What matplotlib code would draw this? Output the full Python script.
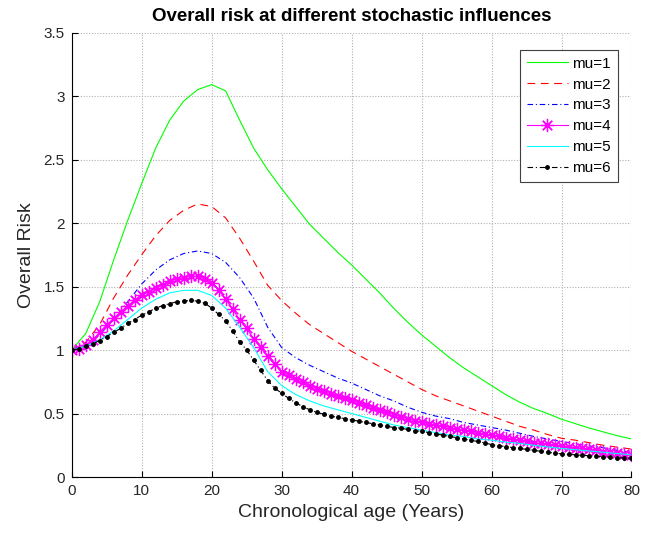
import numpy as np
import matplotlib
matplotlib.use('Agg')
import matplotlib.pyplot as plt

plt.rcParams['font.family'] = ['Liberation Sans', 'DejaVu Sans']

# eta' (anni): linee semplici ogni 2 anni, linee con marker ogni anno
eta2 = np.arange(0, 81, 2)
eta1 = np.arange(0, 81, 1)

mu1 = [1.00, 1.13, 1.38, 1.71, 2.02, 2.31, 2.59, 2.81, 2.96, 3.05, 3.09, 3.04, 2.81, 2.59,
       2.42, 2.27, 2.13, 1.99, 1.88, 1.77, 1.67, 1.56, 1.45, 1.33, 1.22, 1.12, 1.03, 0.94,
       0.86, 0.79, 0.72, 0.65, 0.59, 0.54, 0.50, 0.455, 0.42, 0.385, 0.355, 0.325, 0.30]
mu2 = [1.00, 1.06, 1.20, 1.41, 1.59, 1.75, 1.90, 2.02, 2.10, 2.15, 2.13, 2.04, 1.88, 1.70,
       1.51, 1.39, 1.29, 1.20, 1.13, 1.06, 0.99, 0.93, 0.87, 0.81, 0.75, 0.69, 0.64, 0.60,
       0.56, 0.52, 0.48, 0.44, 0.40, 0.37, 0.335, 0.305, 0.29, 0.27, 0.25, 0.235, 0.22]
mu3 = [1.00, 1.04, 1.12, 1.24, 1.38, 1.52, 1.63, 1.71, 1.76, 1.78, 1.76, 1.69, 1.57, 1.41,
       1.18, 1.02, 0.94, 0.88, 0.83, 0.78, 0.74, 0.69, 0.64, 0.60, 0.55, 0.51, 0.48, 0.46,
       0.43, 0.41, 0.39, 0.37, 0.345, 0.32, 0.30, 0.28, 0.26, 0.245, 0.23, 0.21, 0.195]
mu5 = [1.00, 1.03, 1.08, 1.15, 1.24, 1.33, 1.40, 1.45, 1.47, 1.47, 1.43, 1.33, 1.18, 1.02,
       0.83, 0.72, 0.65, 0.60, 0.56, 0.53, 0.50, 0.47, 0.44, 0.41, 0.39, 0.37, 0.35, 0.33,
       0.32, 0.30, 0.29, 0.275, 0.265, 0.25, 0.237, 0.225, 0.215, 0.205, 0.195, 0.185, 0.175]
mu4 = [1.00, 1.01, 1.04, 1.08, 1.14, 1.20, 1.25, 1.30, 1.35, 1.39, 1.43, 1.46, 1.49, 1.51,
       1.54, 1.56, 1.57, 1.58, 1.58, 1.56, 1.53, 1.47, 1.40, 1.32, 1.24, 1.17, 1.09, 1.02,
       0.95, 0.89, 0.83, 0.80, 0.77, 0.745, 0.72, 0.695, 0.675, 0.655, 0.635, 0.62, 0.605,
       0.585, 0.565, 0.545, 0.525, 0.51, 0.49, 0.475, 0.46, 0.445, 0.43, 0.42, 0.41, 0.40,
       0.39, 0.38, 0.37, 0.36, 0.35, 0.34, 0.33, 0.32, 0.31, 0.30, 0.29, 0.28, 0.27, 0.265,
       0.26, 0.25, 0.245, 0.24, 0.23, 0.225, 0.22, 0.21, 0.20, 0.195, 0.19, 0.18, 0.175]
mu6 = [1.00, 1.01, 1.03, 1.05, 1.075, 1.105, 1.14, 1.17, 1.21, 1.24, 1.275, 1.30, 1.33,
       1.35, 1.365, 1.38, 1.385, 1.39, 1.385, 1.37, 1.33, 1.28, 1.23, 1.15, 1.065, 1.00,
       0.92, 0.84, 0.76, 0.70, 0.66, 0.62, 0.585, 0.555, 0.53, 0.51, 0.495, 0.48, 0.47,
       0.46, 0.45, 0.44, 0.43, 0.42, 0.41, 0.40, 0.39, 0.385, 0.375, 0.365, 0.36, 0.35,
       0.34, 0.33, 0.32, 0.31, 0.30, 0.29, 0.28, 0.27, 0.255, 0.247, 0.24, 0.232, 0.225,
       0.218, 0.21, 0.203, 0.195, 0.188, 0.182, 0.178, 0.175, 0.171, 0.167, 0.163, 0.16,
       0.156, 0.153, 0.15, 0.147]

fig = plt.figure(figsize=(6.49, 5.33), dpi=100)
ax = fig.add_axes([0.1105, 0.105, 0.8625, 0.834])

lw = 0.8
ax.plot(eta2, mu1, color='#00ff00', lw=lw, label='mu=1')
ax.plot(eta2, mu2, color='#ff0000', lw=lw, dashes=(7, 5), label='mu=2')
ax.plot(eta2, mu3, color='#0000ff', lw=lw, dashes=(5, 2.5, 1, 2.5), label='mu=3')
ax.plot(eta1, mu4, color='#ff00ff', lw=lw, marker=(8, 2, 0), markersize=9.5,
        markeredgewidth=0.9, label='mu=4')
ax.plot(eta2, mu5, color='#00ffff', lw=lw, label='mu=5')
ax.plot(eta1, mu6, color='k', lw=lw, dashes=(5, 2.5, 1, 2.5), marker='.', markersize=5,
        label='mu=6')

ax.set_xlim(0, 80)
ax.set_ylim(0, 3.5)
ax.set_xticks(np.arange(0, 81, 10))
ax.set_yticks(np.arange(0, 3.51, 0.5))
ax.set_yticklabels(['0', '0.5', '1', '1.5', '2', '2.5', '3', '3.5'])
ax.grid(True, linestyle=(0, (1, 1.5)), color='#b0b0b0', lw=0.8)
ax.tick_params(direction='in', labelsize=11, length=4, pad=5, labelcolor='#262626')
ax.spines['top'].set_visible(False)
ax.spines['right'].set_visible(False)
ax.spines['left'].set_linewidth(0.8)
ax.spines['bottom'].set_linewidth(0.8)

ax.set_xlabel('Chronological age (Years)', fontsize=14, labelpad=4, color='#262626')
ax.set_ylabel('Overall Risk', fontsize=14, labelpad=6, color='#262626')
ax.set_title('Overall risk at different stochastic influences', fontsize=13.5,
             fontweight='bold', pad=8)

leg = ax.legend(loc='upper right', bbox_to_anchor=(0.976, 0.961), borderaxespad=0,
                fontsize=11, fancybox=False, edgecolor='#404040', framealpha=1,
                handlelength=2.7, handletextpad=0.3, borderpad=0.45, labelspacing=0.45)
leg.get_frame().set_linewidth(0.8)

fig.savefig('out.png', dpi=100)
